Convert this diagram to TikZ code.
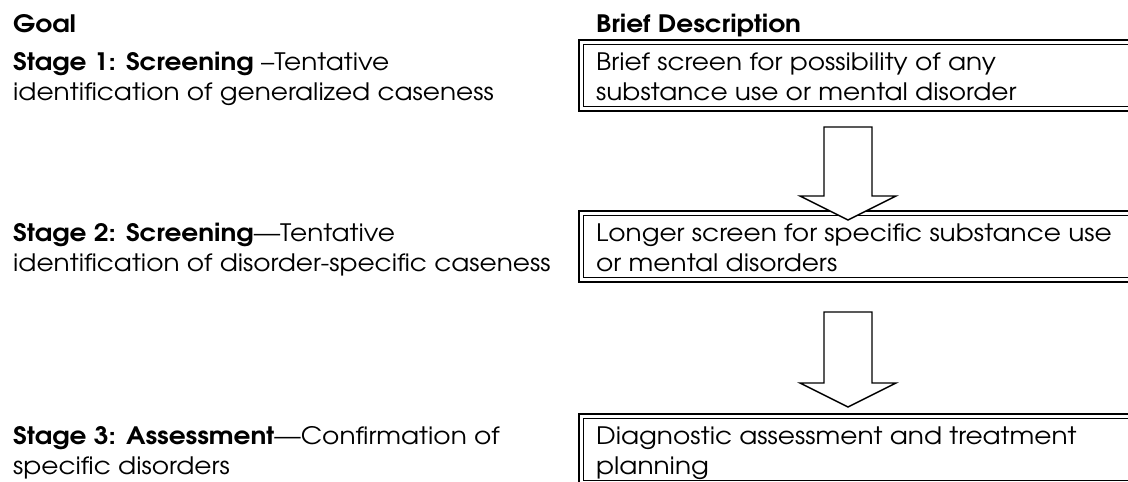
\documentclass[tikz,border=0pt]{standalone}
\usepackage{fontspec}
\setmainfont{texgyreadventor}[Extension=.otf,UprightFont=*-regular,BoldFont=*-bold,ItalicFont=*-italic,BoldItalicFont=*-bolditalic,FakeStretch=1.1]
\tikzset{
  txt/.style={anchor=base west,inner sep=0pt,font=\fontsize{24}{30}\selectfont},
  outerline/.style={line width=2.6pt},
  innerline/.style={line width=1pt},
  blockarrow/.style={draw,line width=1.4pt,fill=white,line join=miter}
}
\newcommand{\tb}[1]{\parbox[t]{560pt}{\raggedright #1}}
\begin{document}
\begin{tikzpicture}[x=1pt,y=-1pt]
\useasboundingbox (0,0) rectangle (1128,482);
\begin{scope}
\clip (0,0) rectangle (1128,482);
% boxes
\foreach \t/\b in {40/111, 211/282, 414/485}{
  \draw[outerline] (1140,\t) -- (579,\t) -- (579,\b) -- (1140,\b);
  \draw[innerline] (1140,\t+4.5) -- (583.5,\t+4.5) -- (583.5,\b-4.5) -- (1140,\b-4.5);
}
\end{scope}
% headers
\node[txt] (goal) at (13,32) {\bfseries Goal};
\node[txt] (brief) at (596,32) {\bfseries Brief Description};
% left column
\node[txt] (s1) at (13,70) {\tb{\textbf{Stage 1: Screening} --Tentative\\identification of generalized caseness}};
\node[txt] (s2) at (13,241) {\tb{\textbf{Stage 2: Screening}---Tentative\\identification of disorder-specific caseness}};
\node[txt] (s3) at (13,444) {\tb{\textbf{Stage 3: Assessment}---Confirmation of\\specific disorders}};
% right column
\node[txt] (d1) at (596,70) {\tb{Brief screen for possibility of any\\substance use or mental disorder}};
\node[txt] (d2) at (596,241) {\tb{Longer screen for specific substance use\\or mental disorders}};
\node[txt] (d3) at (596,444) {\tb{Diagnostic assessment and treatment\\planning}};
% block arrows
\coordinate (a1) at (848,127);
\coordinate (a2) at (848,312);
\foreach \a/\h/\l in {a1/69/93, a2/71/95}{
  \draw[blockarrow] ([xshift=-24pt]\a) -- ([xshift=24pt]\a) -- ([xshift=24pt,yshift=-\h pt]\a)
    -- ([xshift=48pt,yshift=-\h pt]\a) -- ([yshift=-\l pt]\a) -- ([xshift=-48pt,yshift=-\h pt]\a)
    -- ([xshift=-24pt,yshift=-\h pt]\a) -- cycle;
}
\end{tikzpicture}
\end{document}
